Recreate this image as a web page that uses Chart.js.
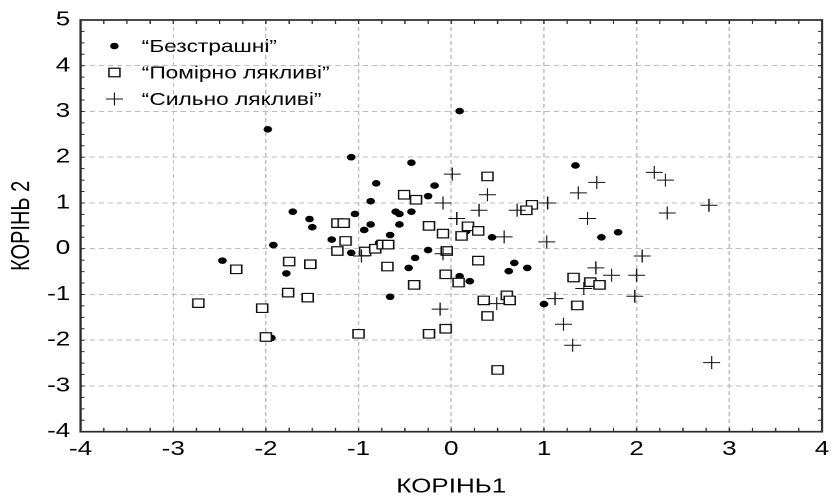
<!DOCTYPE html>
<html lang="uk">
<head>
<meta charset="utf-8">
<title>КОРІНЬ1 / КОРІНЬ 2</title>
<script src="https://cdn.jsdelivr.net/npm/chart.js@4.4.1/dist/chart.umd.min.js"></script>
<style>
  html, body { margin: 0; padding: 0; background: #fff; overflow: hidden; }
</style>
</head>
<body>
<!-- drawn 644 wide and stretched to 837, the original picture is wide like that -->
<canvas id="chart" width="644" height="499" style="display:block;width:837px;height:499px"></canvas>
<script>
// Groups
const seriesNames = ["“Безстрашні”", "“Помірно лякливі”", "“Сильно лякливі”"];

// [КОРІНЬ1, КОРІНЬ 2] for every case
const fearless = [
  [-1.98, 2.61], [-1.08, 2.00], [-0.43, 1.88], [-0.81, 1.43], [-0.87, 1.04],
  [-1.71, 0.81], [-1.53, 0.65], [-1.50, 0.47], [-1.04, 0.76], [-0.60, 0.81],
  [-0.56, 0.76], [-0.43, 0.81], [-0.56, 0.53], [-0.94, 0.41], [-0.87, 0.53],
  [-0.66, 0.30], [-1.29, 0.20], [-1.92, 0.08], [-1.08, -0.09], [-0.78, 0.13],
  [-0.18, 1.38], [-0.25, 1.15], [-0.25, -0.03], [-0.39, -0.20], [-0.46, -0.42],
  [0.09, -0.60], [0.09, 3.01], [1.34, 1.82], [0.44, 0.25], [1.62, 0.25],
  [1.80, 0.36], [0.20, -0.71], [0.62, -0.49], [0.68, -0.31], [0.82, -0.42],
  [1.00, -1.21], [-2.47, -0.26], [-1.78, -0.54], [-0.66, -1.05], [-1.94, -1.95],
  [0.16, 0.38]
];
const moderate = [
  [-0.51, 1.18], [-0.38, 1.07], [-1.23, 0.56], [-1.16, 0.56], [-1.14, 0.17],
  [-1.23, -0.05], [-0.93, -0.06], [-0.82, 0.00], [-0.74, 0.09], [-0.68, 0.09],
  [-0.24, 0.50], [-0.09, 0.33], [0.11, 0.28], [-0.05, -0.05], [-0.69, -0.39],
  [-0.06, -0.56], [0.39, 1.58], [0.18, 0.49], [0.29, 0.39], [0.87, 0.96],
  [0.81, 0.84], [0.29, -0.26], [0.08, -0.74], [-0.40, -0.79], [0.35, -1.13],
  [0.39, -1.47], [-0.06, -1.75], [-0.24, -1.86], [0.50, -2.65], [0.60, -1.02],
  [0.63, -1.13], [1.32, -0.63], [1.50, -0.73], [1.60, -0.79], [1.36, -1.24],
  [-2.32, -0.45], [-2.73, -1.19], [-2.04, -1.30], [-2.00, -1.93], [-1.75, -0.28],
  [-1.52, -0.34], [-1.76, -0.96], [-1.55, -1.07], [-1.00, -1.86]
];
const strong = [
  [0.01, 1.63], [0.39, 1.18], [-0.09, 1.00], [0.30, 0.84], [0.06, 0.66],
  [0.71, 0.84], [1.04, 1.00], [1.37, 1.22], [1.57, 1.45], [1.47, 0.66],
  [2.19, 1.67], [2.31, 1.50], [2.33, 0.78], [2.78, 0.95], [0.57, 0.26],
  [1.03, 0.15], [2.06, -0.16], [-0.09, -0.11], [-0.97, -0.16], [-0.12, -1.32],
  [0.49, -1.20], [1.12, -1.09], [1.21, -1.65], [1.31, -2.11], [1.43, -0.87],
  [1.56, -0.42], [1.73, -0.58], [2.00, -0.58], [1.98, -1.04], [2.81, -2.49]
];

const xTicks = [-4, -3, -2, -1, 0, 1, 2, 3, 4];
const yTicks = [-4, -3, -2, -1, 0, 1, 2, 3, 4, 5];
const xTitle = "КОРІНЬ1";
const yTitle = "КОРІНЬ 2";

const FONT = '"Liberation Sans", Arial, sans-serif';
Chart.defaults.font.family = FONT;
Chart.defaults.color = "#000";

const toPoints = (arr) => arr.map(([x, y]) => ({ x, y }));

// frame round the plot with small inward ticks every 0.25
const framePlugin = {
  id: "frame",
  beforeDatasetsDraw(chart) {
    const { ctx, chartArea: a, scales } = chart;
    const x = scales.x, y = scales.y;
    ctx.save();
    ctx.strokeStyle = "#2a2a2a";
    ctx.lineWidth = 1;
    ctx.beginPath();
    const x0 = xTicks[0], x1 = xTicks[xTicks.length - 1];
    for (let i = 0; i <= (x1 - x0) * 4; i++) {
      const px = x.getPixelForValue(x0 + i * 0.25);
      ctx.moveTo(px, a.bottom); ctx.lineTo(px, a.bottom - 4);
      ctx.moveTo(px, a.top); ctx.lineTo(px, a.top + 4);
    }
    const y0 = yTicks[0], y1 = yTicks[yTicks.length - 1];
    for (let i = 0; i <= (y1 - y0) * 4; i++) {
      const py = y.getPixelForValue(y0 + i * 0.25);
      ctx.moveTo(a.left, py); ctx.lineTo(a.left + 3, py);
      ctx.moveTo(a.right, py); ctx.lineTo(a.right - 3, py);
    }
    ctx.stroke();
    ctx.lineWidth = 1.7;
    ctx.strokeRect(a.left, a.top, a.right - a.left, a.bottom - a.top);
    ctx.restore();
  }
};

// legend sits inside the plot, top left
const legendPlugin = {
  id: "insideLegend",
  afterDraw(chart) {
    const ctx = chart.ctx;
    ctx.save();
    ctx.font = "17.5px " + FONT;
    ctx.textBaseline = "middle";
    ctx.textAlign = "left";
    chart.data.datasets.forEach((ds, i) => {
      const ly = 46 + i * 26.5;
      ctx.fillStyle = ds.backgroundColor;
      ctx.strokeStyle = ds.borderColor;
      ctx.lineWidth = ds.borderWidth;
      Chart.helpers.drawPoint(ctx, {
        pointStyle: ds.pointStyle,
        radius: ds.pointRadius,
        borderWidth: ds.borderWidth,
        rotation: 0
      }, 88, ly);
      ctx.fillStyle = "#000";
      ctx.fillText(ds.label, 109, ly + 1);
    });
    ctx.restore();
  }
};

new Chart(document.getElementById("chart"), {
  type: "scatter",
  data: {
    datasets: [
      {
        label: seriesNames[0],
        data: toPoints(fearless),
        pointStyle: "circle",
        pointRadius: 3.3,
        backgroundColor: "#000",
        borderColor: "#000",
        borderWidth: 0,
        order: 3
      },
      {
        label: seriesNames[1],
        data: toPoints(moderate),
        pointStyle: "rect",
        pointRadius: 6,
        backgroundColor: "#fff",
        borderColor: "#111",
        borderWidth: 1.2,
        order: 2
      },
      {
        label: seriesNames[2],
        data: toPoints(strong),
        pointStyle: "cross",
        pointRadius: 6.5,
        backgroundColor: "#111",
        borderColor: "#111",
        borderWidth: 1,
        order: 1
      }
    ]
  },
  options: {
    responsive: false,
    animation: false,
    devicePixelRatio: 2,
    layout: { padding: { top: 19, right: 6, left: 0, bottom: 0 } },
    plugins: {
      legend: { display: false },
      tooltip: { enabled: false }
    },
    scales: {
      x: {
        type: "linear",
        min: xTicks[0],
        max: xTicks[xTicks.length - 1],
        afterBuildTicks: (s) => { s.ticks = xTicks.map((v) => ({ value: v })); },
        afterFit: (s) => { s.height = 67.3; },
        ticks: { font: { size: 20 }, padding: 6, maxRotation: 0 },
        grid: { color: "#bdbdbd", lineWidth: 1, drawTicks: false },
        border: { display: false, dash: [4, 3] },
        title: {
          display: true,
          text: xTitle,
          font: { size: 20 },
          padding: { top: 0, bottom: 0 }
        }
      },
      y: {
        type: "linear",
        min: yTicks[0],
        max: yTicks[yTicks.length - 1],
        afterBuildTicks: (s) => { s.ticks = yTicks.map((v) => ({ value: v })); },
        afterFit: (s) => { s.width = 62; },
        ticks: { font: { size: 20 }, padding: 8 },
        grid: { color: "#bdbdbd", lineWidth: 1, drawTicks: false },
        border: { display: false, dash: [4, 3] },
        title: {
          display: true,
          text: yTitle,
          font: { size: 20 },
          padding: { top: 5, bottom: 0 }
        }
      }
    }
  },
  plugins: [framePlugin, legendPlugin]
});
</script>
</body>
</html>
